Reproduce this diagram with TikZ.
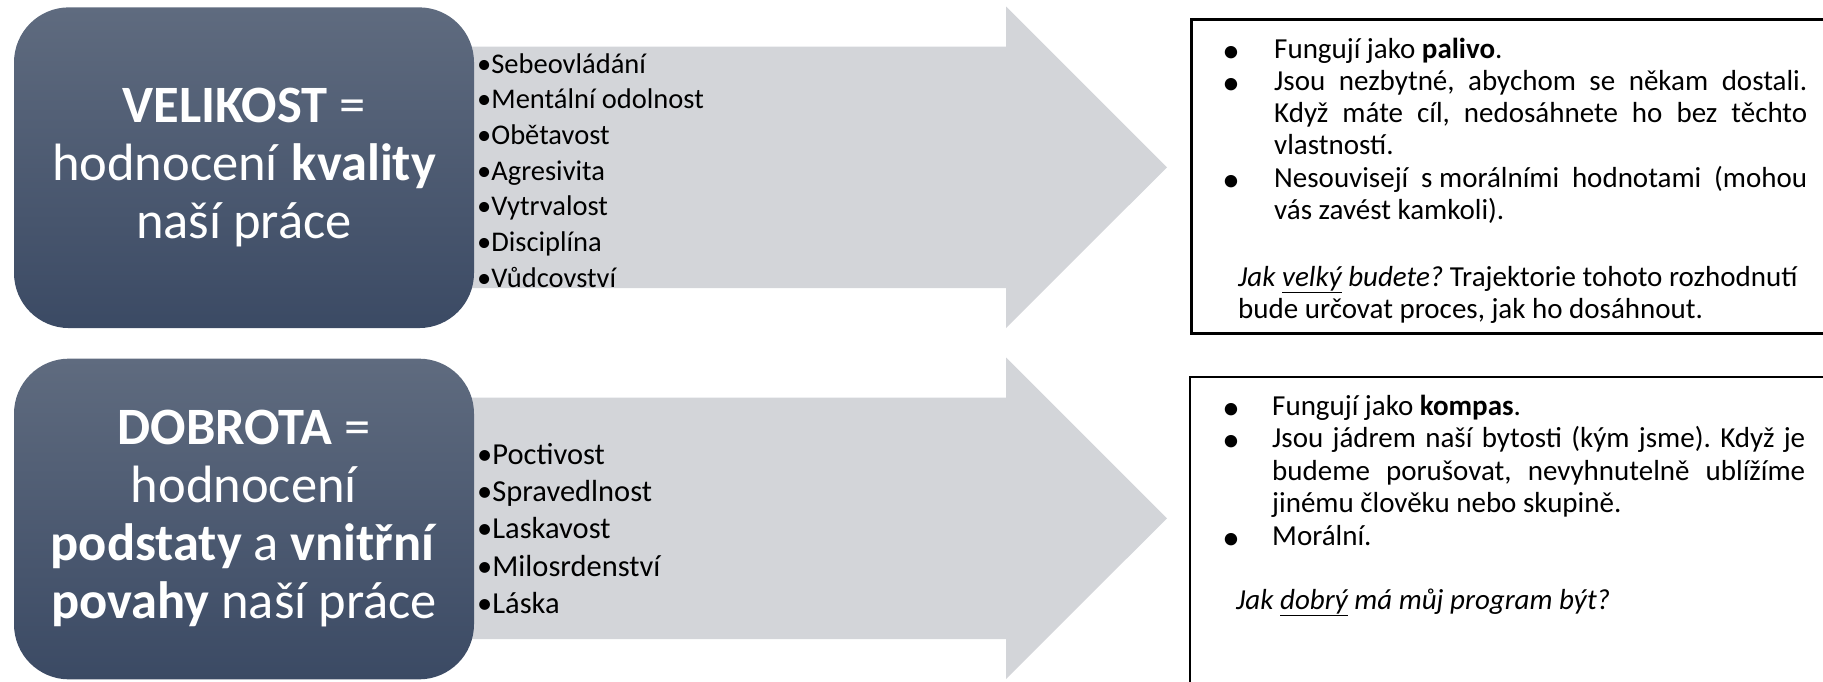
\documentclass[tikz,border=0pt]{standalone}
\usepackage{fontspec}
\setmainfont{Carlito}
\frenchspacing
\definecolor{boxtop}{RGB}{95,107,127}
\definecolor{boxbot}{RGB}{59,74,100}
\definecolor{arrowgray}{RGB}{211,213,217}
\begin{document}
\begin{tikzpicture}[x=1pt,y=-1pt,
  leftbox/.style={rounded corners=55pt, top color=boxtop, bottom color=boxbot,
    minimum width=460pt, minimum height=320.7pt, text=white, align=center,
    inner sep=0pt, font=\fontsize{52.5}{58}\selectfont},
  itemA/.style={anchor=base west, inner sep=0pt, font=\fontsize{28.5}{34}\selectfont},
  itemB/.style={anchor=base west, inner sep=0pt, font=\fontsize{30.5}{36}\selectfont},
  para/.style={anchor=base west, inner sep=0pt, font=\fontsize{29}{32}\selectfont},
  bul/.style={anchor=base, inner sep=0pt, text height=12pt, text depth=0pt,
    font=\fontsize{35}{36}\selectfont},
  textbox/.style={draw=black, line width=2.8pt, fill=white}]
\useasboundingbox (0,0) rectangle (1823,681);
\begin{scope}
\clip (0,0) rectangle (1823,681);
% arrows
\fill[arrowgray] (440,46.7) -- (1006,46.7) -- (1006,6.5) -- (1167,167.3)
  -- (1006,328) -- (1006,288) -- (440,288) -- cycle;
\fill[arrowgray] (440,397.7) -- (1006,397.7) -- (1006,357.5) -- (1167,518.3)
  -- (1006,679) -- (1006,639) -- (440,639) -- cycle;
% right boxes
\draw[textbox] (1191.5,19.5) rectangle (1850,333.5);
\draw[textbox] (1190,377) rectangle (1850,720);
\end{scope}
% left boxes
\node[leftbox] (velikost) at (244,167.7)
  {\textbf{VELIKOST} =\\hodnocení \textbf{kvality}\\naší práce};
\node[leftbox] (dobrota) at (244,519)
  {\textbf{DOBROTA} =\\hodnocení\\\textbf{podstaty} a \textbf{vnitřní}\\\textbf{povahy} naší práce};
% lists in arrows
\foreach \t [count=\i from 0] in {Sebeovládání,Mentální odolnost,Obětavost,Agresivita,Vytrvalost,Disciplína,Vůdcovství}
  \node[itemA] (va\i) at (477,73+35.7*\i) {•\t};
\foreach \t [count=\i from 0] in {Poctivost,Spravedlnost,Laskavost,Milosrdenství,Láska}
  \node[itemB] (da\i) at (477,464+37.4*\i) {•\t};
% top right text
\node[bul] (vb1) at (1231,62) {•};
\node[para] (vl1) at (1274,58) {Fungují jako \textbf{palivo}.};
\node[bul] (vb2) at (1231,94.3) {•};
\node[para] (vl2) at (1274,90.3) {\makebox[533pt][s]{Jsou nezbytné, abychom se někam dostali.}};
\node[para] (vl3) at (1274,122.6) {\makebox[533pt][s]{Když máte cíl, nedosáhnete ho bez těchto}};
\node[para] (vl4) at (1274,154.9) {vlastností.};
\node[bul] (vb3) at (1231,191.2) {•};
\node[para] (vl5) at (1274,187.2) {\makebox[533pt][s]{Nesouvisejí s\kern0.23em morálními hodnotami (mohou}};
\node[para] (vl6) at (1274,219.5) {vás zavést kamkoli).};
\node[para] (vl7) at (1238,286) {\textit{Jak \underline{velký} budete?} Trajektorie tohoto rozhodnutí};
\node[para] (vl8) at (1238,318) {bude určovat proces, jak ho dosáhnout.};
% bottom right text
\node[bul] (db1) at (1231,419) {•};
\node[para] (dl1) at (1272,415) {Fungují jako \textbf{kompas}.};
\node[bul] (db2) at (1231,451.5) {•};
\node[para] (dl2) at (1272,447.5) {\makebox[533pt][s]{Jsou jádrem naší bytosti (kým jsme). Když je}};
\node[para] (dl3) at (1272,480) {\makebox[533pt][s]{budeme porušovat, nevyhnutelně ublížíme}};
\node[para] (dl4) at (1272,512.5) {jinému člověku nebo skupině.};
\node[bul] (db3) at (1231,549) {•};
\node[para] (dl5) at (1272,545) {Morální.};
\node[para] (dl6) at (1236,609) {\textit{Jak \underline{dobrý} má můj program být?}};
\end{tikzpicture}
\end{document}
